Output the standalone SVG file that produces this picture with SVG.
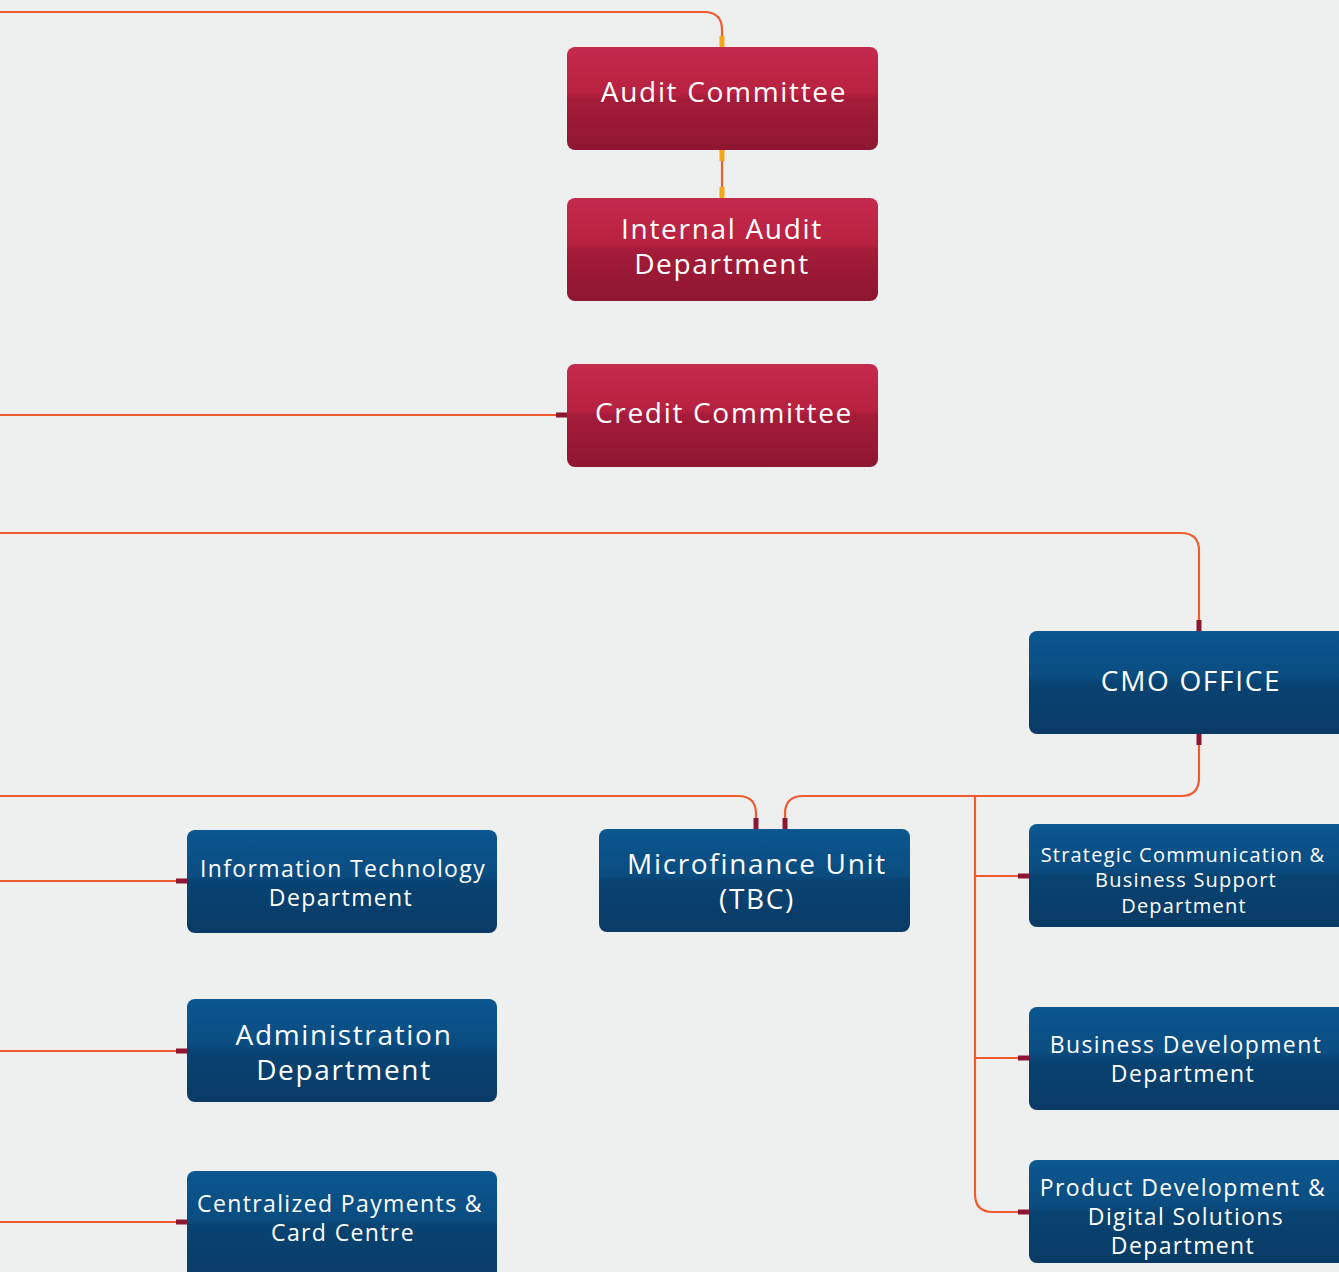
<svg xmlns="http://www.w3.org/2000/svg" width="1339" height="1272" viewBox="0 0 1339 1272">
<defs>
<linearGradient id="gr" x1="0" y1="0" x2="0" y2="1">
<stop offset="0" stop-color="#c42a4e"/>
<stop offset="0.45" stop-color="#b8213f"/>
<stop offset="0.5" stop-color="#a51c3a"/>
<stop offset="1" stop-color="#8e1631"/>
</linearGradient>
<linearGradient id="gb" x1="0" y1="0" x2="0" y2="1">
<stop offset="0" stop-color="#0b5790"/>
<stop offset="0.45" stop-color="#0a4c80"/>
<stop offset="0.5" stop-color="#084372"/>
<stop offset="1" stop-color="#0a3b66"/>
</linearGradient>
</defs>
<style>
.r{fill:url(#gr)}
.b{fill:url(#gb)}
.t{fill:#ffffff;font-family:"Open Sans","DejaVu Sans",sans-serif;text-anchor:middle;letter-spacing:0.06em}
.l{fill:none;stroke:#ef5b2e;stroke-width:2.2}
.sy{fill:#f6a51d}
.sr{fill:#8d1733}
</style>
<rect width="1339" height="1272" fill="#eef0f0"/>
<g id="connectors">
<path class="l" d="M0 12 H704 Q722 12 722 30 V47"/>
<path class="l" d="M722 150 V198"/>
<path class="l" d="M0 415 H567"/>
<path class="l" d="M0 533 H1181 Q1199 533 1199 551 V631"/>
<path class="l" d="M1199 734 V778 Q1199 796 1181 796 H803 Q785 796 785 814 V829"/>
<path class="l" d="M0 796 H738 Q756 796 756 814 V829"/>
<path class="l" d="M975 796 V1194 Q975 1212 993 1212 H1029"/>
<path class="l" d="M975 876 H1029"/>
<path class="l" d="M975 1058 H1029"/>
<path class="l" d="M0 881 H187"/>
<path class="l" d="M0 1051 H187"/>
<path class="l" d="M0 1222 H187"/>
<rect class="sy" x="719.5" y="36" width="5" height="11"/>
<rect class="sy" x="719.5" y="150" width="5" height="11"/>
<rect class="sy" x="719.5" y="187" width="5" height="11"/>
<rect class="sr" x="556" y="412.5" width="11" height="5"/>
<rect class="sr" x="1196.5" y="620" width="5" height="11"/>
<rect class="sr" x="1196.5" y="734" width="5" height="11"/>
<rect class="sr" x="753.5" y="818" width="5" height="11"/>
<rect class="sr" x="782.5" y="818" width="5" height="11"/>
<rect class="sr" x="1018" y="873.5" width="11" height="5"/>
<rect class="sr" x="1018" y="1055.5" width="11" height="5"/>
<rect class="sr" x="1018" y="1209.5" width="11" height="5"/>
<rect class="sr" x="176" y="878.5" width="11" height="5"/>
<rect class="sr" x="176" y="1048.5" width="11" height="5"/>
<rect class="sr" x="176" y="1219.5" width="11" height="5"/>
</g>
<g id="audit-committee"><rect class="r" x="567" y="47" width="311" height="103" rx="8"/><text class="t" x="724" y="102" font-size="28">Audit Committee</text></g>
<g id="internal-audit"><rect class="r" x="567" y="198" width="311" height="103" rx="8"/><text class="t" x="722" y="239" font-size="28">Internal Audit</text><text class="t" x="722" y="274" font-size="28">Department</text></g>
<g id="credit-committee"><rect class="r" x="567" y="364" width="311" height="103" rx="8"/><text class="t" x="724" y="423" font-size="28">Credit Committee</text></g>
<g id="cmo-office"><rect class="b" x="1029" y="631" width="318" height="103" rx="8"/><text class="t" x="1191" y="691" font-size="28">CMO OFFICE</text></g>
<g id="microfinance"><rect class="b" x="599" y="829" width="311" height="103" rx="8"/><text class="t" x="757" y="874" font-size="28">Microfinance Unit</text><text class="t" x="757" y="909" font-size="28">(TBC)</text></g>
<g id="it-dept"><rect class="b" x="187" y="830" width="310" height="103" rx="8"/><text class="t" x="343" y="877" font-size="23">Information Technology</text><text class="t" x="341" y="906" font-size="23">Department</text></g>
<g id="admin-dept"><rect class="b" x="187" y="999" width="310" height="103" rx="8"/><text class="t" x="344" y="1045" font-size="28">Administration</text><text class="t" x="344" y="1080" font-size="28">Department</text></g>
<g id="payments"><rect class="b" x="187" y="1171" width="310" height="110" rx="8"/><text class="t" x="340" y="1212" font-size="23">Centralized Payments &amp;</text><text class="t" x="343" y="1241" font-size="23">Card Centre</text></g>
<g id="strategic-comm"><rect class="b" x="1029" y="824" width="318" height="103" rx="8"/><text class="t" x="1183" y="862" font-size="20">Strategic Communication &amp;</text><text class="t" x="1186" y="887" font-size="20">Business Support</text><text class="t" x="1184" y="913" font-size="20">Department</text></g>
<g id="business-dev"><rect class="b" x="1029" y="1007" width="318" height="103" rx="8"/><text class="t" x="1186" y="1053" font-size="23">Business Development</text><text class="t" x="1183" y="1082" font-size="23">Department</text></g>
<g id="product-dev"><rect class="b" x="1029" y="1160" width="318" height="103" rx="8"/><text class="t" x="1183" y="1196" font-size="23">Product Development &amp;</text><text class="t" x="1186" y="1225" font-size="23">Digital Solutions</text><text class="t" x="1183" y="1254" font-size="23">Department</text></g>
</svg>
